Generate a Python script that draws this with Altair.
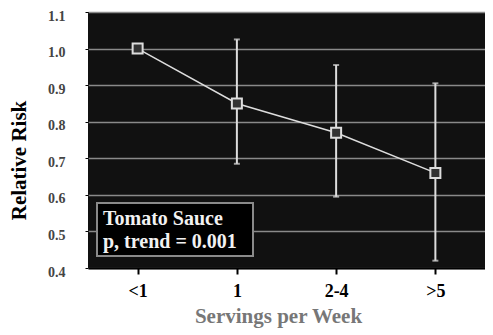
import altair as alt
import pandas as pd

categories = ["<1", "1", "2-4", ">5"]
rr = [1.00, 0.85, 0.77, 0.66]
ci_low = [None, 0.685, 0.595, 0.42]
ci_high = [None, 1.025, 0.955, 0.905]
y_ticks = [0.4, 0.5, 0.6, 0.7, 0.8, 0.9, 1.0, 1.1]
box_lines = ["Tomato Sauce", "p, trend = 0.001"]

df = pd.DataFrame({"cat": categories, "rr": rr, "lo": ci_low, "hi": ci_high})
df_err = df.dropna()

FONT = "Liberation Serif"
W, H = 397, 256

xaxis = alt.Axis(title="Servings per Week", labelAngle=0, labelFontSize=18,
                 labelFont=FONT, labelFontWeight="bold", labelColor="#000",
                 labelPadding=8, tickSize=6, tickWidth=2, tickColor="#000",
                 domainColor="#000", domainWidth=2, titleFont=FONT,
                 titleFontSize=21, titleFontWeight="bold", titleColor="#777",
                 titlePadding=5, titleX=190, grid=False)
xscale = alt.Scale(type="point", padding=0.5)
yscale = alt.Scale(domain=[0.4, 1.1], nice=False, zero=False)
yaxis = alt.Axis(title="Relative Risk", values=y_ticks, format=".1f", labelFont=FONT,
                 labelFontSize=14, labelFontWeight="bold", labelColor="#444",
                 labelOverlap=False, labelPadding=20, labelOffset=4, tickSize=3,
                 tickColor="#000", domain=False, grid=True, gridColor="#8a8a8a",
                 gridWidth=1.5, titleFont=FONT, titleFontSize=21, titleFontWeight="bold",
                 titleColor="#000", titlePadding=18, titleY=148)


def X():
    return alt.X("cat:N", sort=categories, scale=xscale, axis=xaxis)


line = alt.Chart(df).mark_line(color="#dddddd", strokeWidth=1.5).encode(
    x=X(), y=alt.Y("rr:Q", scale=yscale, axis=yaxis))

err = alt.Chart(df_err).mark_errorbar(ticks=alt.MarkConfig(size=6, color="#dddddd", strokeWidth=2),
                                      color="#dddddd", thickness=2).encode(
    x=X(), y=alt.Y("lo:Q", scale=yscale, axis=yaxis), y2="hi:Q")

pts = alt.Chart(df).mark_point(shape="square", size=100, filled=False, fill="#333333",
                               fillOpacity=1, stroke="#dddddd", strokeWidth=2, opacity=1).encode(
    x=X(), y=alt.Y("rr:Q", scale=yscale, axis=yaxis))

box = alt.Chart(pd.DataFrame({"a": [0]})).mark_rect(
    fill="#000000", stroke="#8a8a8a", strokeWidth=2).encode(
    x=alt.value(9), x2=alt.value(165), y=alt.value(191), y2=alt.value(244))

txt_df = pd.DataFrame({"t": box_lines, "yy": [213, 236]})
txt = alt.Chart(txt_df).mark_text(font=FONT, fontSize=20, fontWeight="bold", color="#f2f2f2",
                                  align="left", baseline="alphabetic").encode(
    x=alt.value(15), y=alt.Y("yy:Q", scale=None), text="t:N")

chart = alt.layer(line, err, pts, box, txt).properties(
    width=W, height=H,
    autosize=alt.AutoSizeParams(type="none"),
    padding={"left": 80, "top": 4, "right": 0, "bottom": 67},
).configure_view(fill="#111111", stroke=None)

chart.save("out.html", embed_options={"renderer": "svg", "actions": False})
